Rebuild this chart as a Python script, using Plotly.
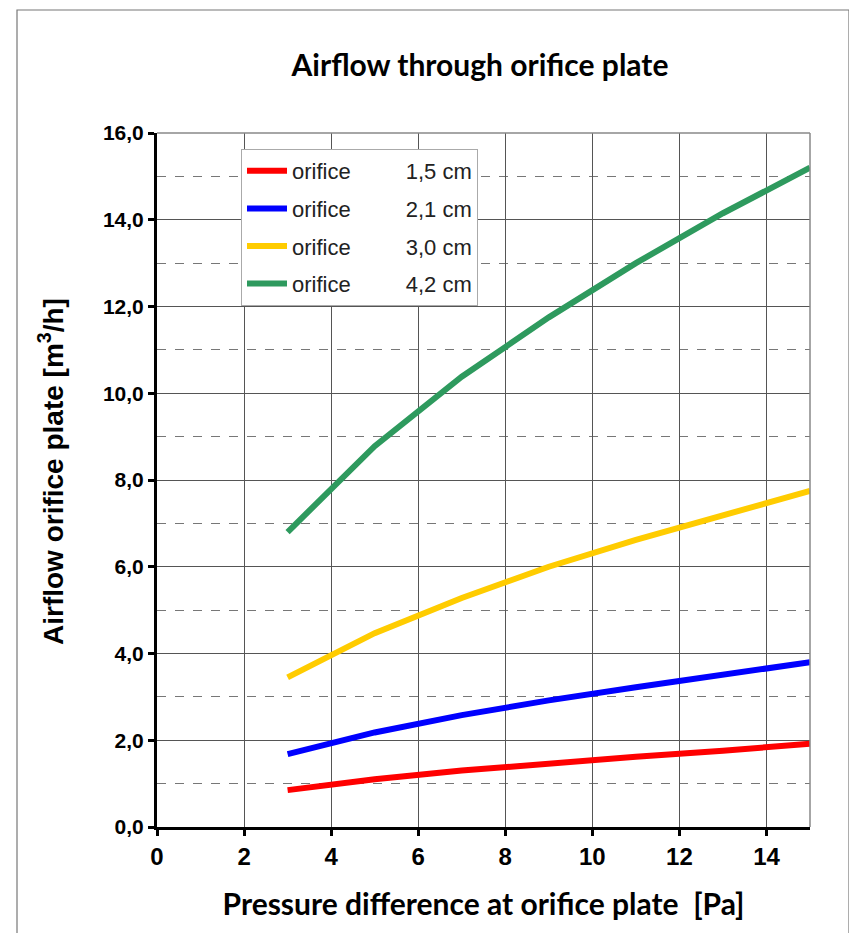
import plotly.graph_objects as go

pressure_pa = [3, 5, 7, 9, 11, 13, 15]
flow_15 = [0.85, 1.10, 1.30, 1.47, 1.62, 1.76, 1.92]
flow_21 = [1.68, 2.18, 2.58, 2.92, 3.22, 3.50, 3.80]
flow_30 = [3.45, 4.47, 5.28, 6.00, 6.62, 7.20, 7.75]
flow_42 = [6.80, 8.78, 10.38, 11.75, 13.00, 14.15, 15.20]

series_names = ["1,5 cm", "2,1 cm", "3,0 cm", "4,2 cm"]
series_values = [flow_15, flow_21, flow_30, flow_42]
series_colors = ["#ff0000", "#0000ff", "#ffcc00", "#2e9a5e"]

x_ticks = [0, 2, 4, 6, 8, 10, 12, 14]
y_ticks = [0, 2, 4, 6, 8, 10, 12, 14, 16]

NB = "\u00a0"
fig = go.Figure()
for i, (name, vals, col) in enumerate(zip(series_names, series_values, series_colors)):
    fig.add_trace(go.Scatter(
        x=pressure_pa, y=vals, mode="lines",
        line=dict(color=col, width=6),
        name="orifice" + NB * 9 + name,
        legendgroup=f"g{i}",
    ))

W, H = 857, 933
OFF = 8  # page body margin
L, R, T, B = 157 - OFF, 47 + OFF, 133 - OFF, 106 + OFF
pw, ph = W - L - R, H - T - B

def px(xp):
    return (xp - OFF - L) / pw

def py(yp):
    return (H - B - (yp - OFF)) / ph

fig.update_layout(
    width=W, height=H,
    margin=dict(l=L, r=R, t=T, b=B),
    paper_bgcolor="white", plot_bgcolor="white",
    separators=",.",
    title=dict(text="<b>Airflow through orifice plate</b>",
               font=dict(family="Lato", size=30, color="black"),
               xref="paper", x=px(480), xanchor="center",
               y=1 - (65 - OFF) / H, yanchor="middle"),
    font=dict(family="Liberation Sans", color="black"),
    legend=dict(x=px(241), y=py(149), xanchor="left", yanchor="top",
                bgcolor="white", bordercolor="#aaaaaa", borderwidth=1,
                font=dict(family="Liberation Sans", size=22, color="#222"),
                tracegroupgap=6, traceorder="grouped", itemwidth=40),
    xaxis=dict(range=[0, 15], tickvals=x_ticks, ticktext=[f"<b>{v}</b>" for v in x_ticks],
               showline=True, linecolor="black", linewidth=3,
               ticks="outside", ticklen=6, tickwidth=3, tickcolor="black",
               tickfont=dict(family="Liberation Sans", size=24, color="black"),
               showgrid=True, gridcolor="#555555", gridwidth=1,
               zeroline=False,
               title=dict(text="<b>Pressure difference at orifice plate  [Pa]</b>",
                          font=dict(family="Lato", size=30, color="black"), standoff=26)),
    yaxis=dict(range=[0, 16], tickvals=y_ticks, tickformat=".1f",
               showline=True, linecolor="black", linewidth=3,
               ticks="outside", ticklen=6, tickwidth=3, tickcolor="black",
               tickfont=dict(family="Liberation Sans", size=21, color="black", weight="bold"),
               showgrid=True, gridcolor="#555555", gridwidth=1,
               zeroline=False,
               minor=dict(dtick=1, showgrid=True, griddash="dash", gridcolor="#777777", gridwidth=1)),
)

fig.add_annotation(text="<b>Airflow orifice plate [m<sup>3</sup>/h]</b>",
                   xref="paper", yref="paper", x=px(51), y=py(472),
                   xanchor="center", yanchor="middle", textangle=-90, showarrow=False,
                   font=dict(family="Liberation Sans", size=28, color="black"))

# plot-area top and right border
fig.add_shape(type="line", xref="paper", yref="paper", x0=0, x1=1, y0=1, y1=1,
              line=dict(color="#888888", width=1.5))
fig.add_shape(type="line", xref="paper", yref="paper", x0=1, x1=1, y0=0, y1=1,
              line=dict(color="#888888", width=1.5))
# outer frame
fig.add_shape(type="rect", xref="paper", yref="paper",
              x0=px(17), x1=px(849), y0=py(960), y1=py(10),
              line=dict(color="#777777", width=1.2), fillcolor="rgba(0,0,0,0)", layer="below")

fig.write_html("out.html")
